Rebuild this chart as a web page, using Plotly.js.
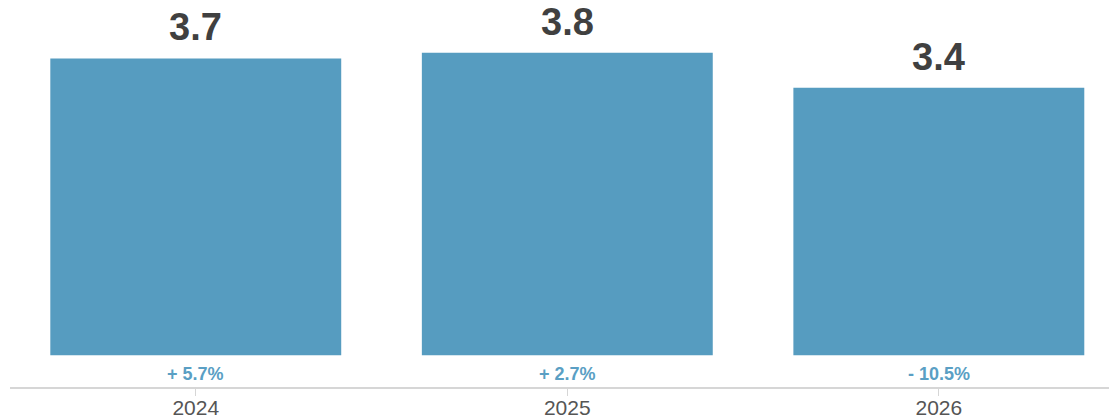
<!DOCTYPE html>
<html>
<head>
<meta charset="utf-8">
<script src="https://cdn.plot.ly/plotly-3.0.1.min.js"></script>
<style>html,body{margin:0;padding:0;background:#fff;}#chart{width:1109px;height:420px;}</style>
</head>
<body>
<div id="chart"></div>
<script>
const years = ['2024', '2025', '2026'];
const values = [3.73, 3.80, 3.36];
const valueLabels = ['3.7', '3.8', '3.4'];
const changeLabels = ['+ 5.7%', '+ 2.7%', '- 10.5%'];

const barColor = '#569cc0';
const font = 'Liberation Sans, Arial, Helvetica, sans-serif';

const annotations = [];
years.forEach((y, i) => {
  annotations.push({
    x: i, y: values[i], xref: 'x', yref: 'y',
    text: '<b>' + valueLabels[i] + '</b>', showarrow: false,
    yanchor: 'bottom', yshift: 8,
    font: {family: font, size: 38, color: '#404040'}
  });
  annotations.push({
    x: i, y: 0, xref: 'x', yref: 'y',
    text: '<b>' + changeLabels[i] + '</b>', showarrow: false,
    yanchor: 'top', yshift: -7,
    font: {family: font, size: 18, color: '#5a9fc4'}
  });
});

Plotly.newPlot('chart', [{
  type: 'bar',
  x: years,
  y: values,
  marker: {color: barColor},
  hoverinfo: 'none'
}], {
  width: 1109, height: 420,
  margin: {l: 10, r: 0, t: 0, b: 33, pad: 0},
  paper_bgcolor: '#fff', plot_bgcolor: '#fff',
  bargap: 0.217,
  showlegend: false,
  xaxis: {
    type: 'category',
    range: [-0.5, 2.458],
    showline: true, linecolor: '#d6d6d6', linewidth: 2,
    ticks: 'outside', ticklen: 7, tickcolor: '#d6d6d6', tickwidth: 1,
    ticklabelstandoff: -6,
    tickfont: {family: font, size: 21, color: '#555'},
    showgrid: false, zeroline: false, fixedrange: true
  },
  yaxis: {
    range: [-0.398, 4.464],
    visible: false, showgrid: false, zeroline: false, fixedrange: true
  },
  annotations: annotations
}, {displayModeBar: false, staticPlot: true});
</script>
</body>
</html>
